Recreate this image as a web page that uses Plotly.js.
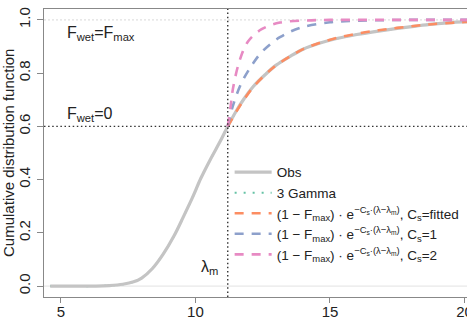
<!DOCTYPE html>
<html>
<head>
<meta charset="utf-8">
<script src="https://cdn.plot.ly/plotly-3.0.1.min.js"></script>
<style>
  html, body { margin: 0; padding: 0; overflow: hidden; background: #fff; }
  #chart { width: 500px; height: 340px; }
</style>
</head>
<body>
<div id="chart"></div>
<script>
// Break point of the wetness index and the matching CDF level
const lambdaM = 11.2;
const fAtLambdaM = 0.6;

// Observed cumulative distribution of CTI
const obsX = [4.6, 5.5, 6.3, 6.8, 7.3, 7.7, 8.0, 8.4, 8.8, 9.2, 9.55, 9.9, 10.2, 10.55, 10.9, 11.2,
              11.5, 11.8, 12.15, 12.6, 13.0, 13.5, 14.0, 14.6, 15.25, 16.0, 16.8, 17.5, 18.2, 18.8, 19.5, 20.0, 20.6];
const obsY = [0.0, 0.0, 0.0, 0.002, 0.007, 0.016, 0.03, 0.066, 0.12, 0.188, 0.26, 0.335, 0.405, 0.475, 0.54, 0.6,
              0.655, 0.703, 0.75, 0.795, 0.83, 0.862, 0.89, 0.912, 0.93, 0.945, 0.958, 0.968, 0.977, 0.984, 0.99, 0.993, 0.996];

// Three-gamma mixture fit (coincides with the observed curve)
const gammaX = obsX;
const gammaY = obsY;

// Exponential tail, fitted Cs
const fitX = [11.2, 11.5, 11.8, 12.15, 12.6, 13.0, 13.5, 14.0, 14.6, 15.25, 16.0, 16.8, 17.5, 18.2, 18.8, 19.5, 20.0, 20.6];
const fitY = [0.6, 0.652, 0.70, 0.748, 0.795, 0.829, 0.862, 0.89, 0.913, 0.932, 0.948, 0.961, 0.970, 0.978, 0.984, 0.989, 0.992, 0.995];

// Exponential tail, Cs = 1
const cs1X = [11.2, 11.4, 11.72, 12.15, 12.52, 13.14, 13.88, 15.0, 16.0, 17.0, 18.0, 19.0, 20.0, 20.6];
const cs1Y = [0.6, 0.68, 0.765, 0.838, 0.885, 0.935, 0.97, 0.991, 0.997, 0.999, 1.0, 1.0, 1.0, 1.0];

// Exponential tail, Cs = 2
const cs2X = [11.2, 11.3, 11.4, 11.65, 11.96, 12.46, 13.14, 14.13, 15.0, 16.0, 17.0, 18.0, 19.0, 20.0, 20.6];
const cs2Y = [0.6, 0.67, 0.745, 0.85, 0.92, 0.965, 0.99, 0.998, 1.0, 1.0, 1.0, 1.0, 1.0, 1.0, 1.0];

// Axis ticks
const xTicks = [5, 10, 15, 20];
const yTicks = [0.0, 0.2, 0.4, 0.6, 0.8, 1.0];

const FONT = '"Liberation Sans", Arial, Helvetica, sans-serif';
const TAIL = '(1 \u2212 F<sub>max</sub>) \u00b7 e<sup>\u2212C<sub>s</sub>\u00b7(\u03bb\u2212\u03bb<sub>m</sub>)</sup>, C<sub>s</sub>=';

const traces = [
  { x: gammaX, y: gammaY, name: '3 Gamma', mode: 'lines', legendrank: 2,
    line: { color: '#66c2a5', width: 2, dash: '2px,7px', shape: 'spline' } },
  { x: obsX, y: obsY, name: 'Obs', mode: 'lines', legendrank: 1,
    line: { color: '#c4c4c4', width: 3.2, shape: 'spline' } },
  { x: fitX, y: fitY, name: TAIL + 'fitted', mode: 'lines', legendrank: 3,
    line: { color: '#fc8d62', width: 2.6, dash: '9px,8px', shape: 'spline' } },
  { x: cs1X, y: cs1Y, name: TAIL + '1', mode: 'lines', legendrank: 4,
    line: { color: '#8da0cb', width: 2.6, dash: '9px,8px', shape: 'spline' } },
  { x: cs2X, y: cs2Y, name: TAIL + '2', mode: 'lines', legendrank: 5,
    line: { color: '#e78ac3', width: 2.6, dash: '9px,8px', shape: 'spline' } }
];

const layout = {
  width: 500, height: 340,
  margin: { l: 44, r: 14, t: 9, b: 43 },
  paper_bgcolor: '#fff', plot_bgcolor: '#fff',
  font: { family: FONT, size: 15, color: '#222' },
  showlegend: true,
  legend: {
    x: 0.42, y: 0.4865, xanchor: 'left', yanchor: 'top',
    itemwidth: 37,
    bgcolor: 'rgba(0,0,0,0)', borderwidth: 0,
    font: { family: FONT, size: 13.5, color: '#222' }
  },
  xaxis: {
    range: [4.37, 20.8], tickvals: xTicks, ticks: 'outside', ticklen: 5,
    ticklabelstandoff: -4,
    tickcolor: '#888', showline: true, linecolor: '#888', linewidth: 1, mirror: true,
    showgrid: false, zeroline: false,
    title: { text: 'CTI (\u03bb<sub>i</sub>)', standoff: 4, font: { size: 15 } }
  },
  yaxis: {
    range: [-0.041, 1.041], tickvals: yTicks, tickformat: '.1f', tickangle: -90,
    ticks: 'outside', ticklen: 6, ticklabelstandoff: 1, tickcolor: '#888',
    showline: true, linecolor: '#888', linewidth: 1, mirror: true,
    showgrid: false, zeroline: false
  },
  shapes: [
    // faint reference lines at 0 and 1
    { type: 'line', xref: 'paper', x0: 0, x1: 1, yref: 'y', y0: 0, y1: 0, layer: 'below',
      line: { color: '#e2e2e2', width: 1 } },
    { type: 'line', xref: 'paper', x0: 0, x1: 1, yref: 'y', y0: 1, y1: 1, layer: 'below',
      line: { color: '#d8d8d8', width: 1, dash: '2px,2px' } },
    // break point markers
    { type: 'line', xref: 'paper', x0: 0, x1: 1, yref: 'y', y0: fAtLambdaM, y1: fAtLambdaM,
      line: { color: '#333', width: 1.4, dash: '1.5px,2.6px' } },
    { type: 'line', xref: 'x', x0: lambdaM, x1: lambdaM, yref: 'paper', y0: 0, y1: 1,
      line: { color: '#333', width: 1.4, dash: '1.5px,2.6px' } }
  ],
  annotations: [
    // y-axis title, placed in the left margin
    { x: -0.0815, y: 0.5, xref: 'paper', yref: 'paper', xanchor: 'center', yanchor: 'middle',
      showarrow: false, textangle: -90, text: 'Cumulative distribution function', font: { size: 15 } },
    { x: 5.15, y: 0.95, xref: 'x', yref: 'y', xanchor: 'left', yanchor: 'middle', showarrow: false,
      text: 'F<sub>wet</sub>=F<sub>max</sub>', font: { size: 16 } },
    { x: 5.15, y: 0.645, xref: 'x', yref: 'y', xanchor: 'left', yanchor: 'middle', showarrow: false,
      text: 'F<sub>wet</sub>=0', font: { size: 16 } },
    { x: 10.9, y: 0.07, xref: 'x', yref: 'y', xanchor: 'right', yanchor: 'middle', showarrow: false,
      text: '\u03bb<sub>m</sub>', font: { size: 16 } }
  ]
};

Plotly.newPlot('chart', traces, layout, { displayModeBar: false, staticPlot: true });
</script>
</body>
</html>
